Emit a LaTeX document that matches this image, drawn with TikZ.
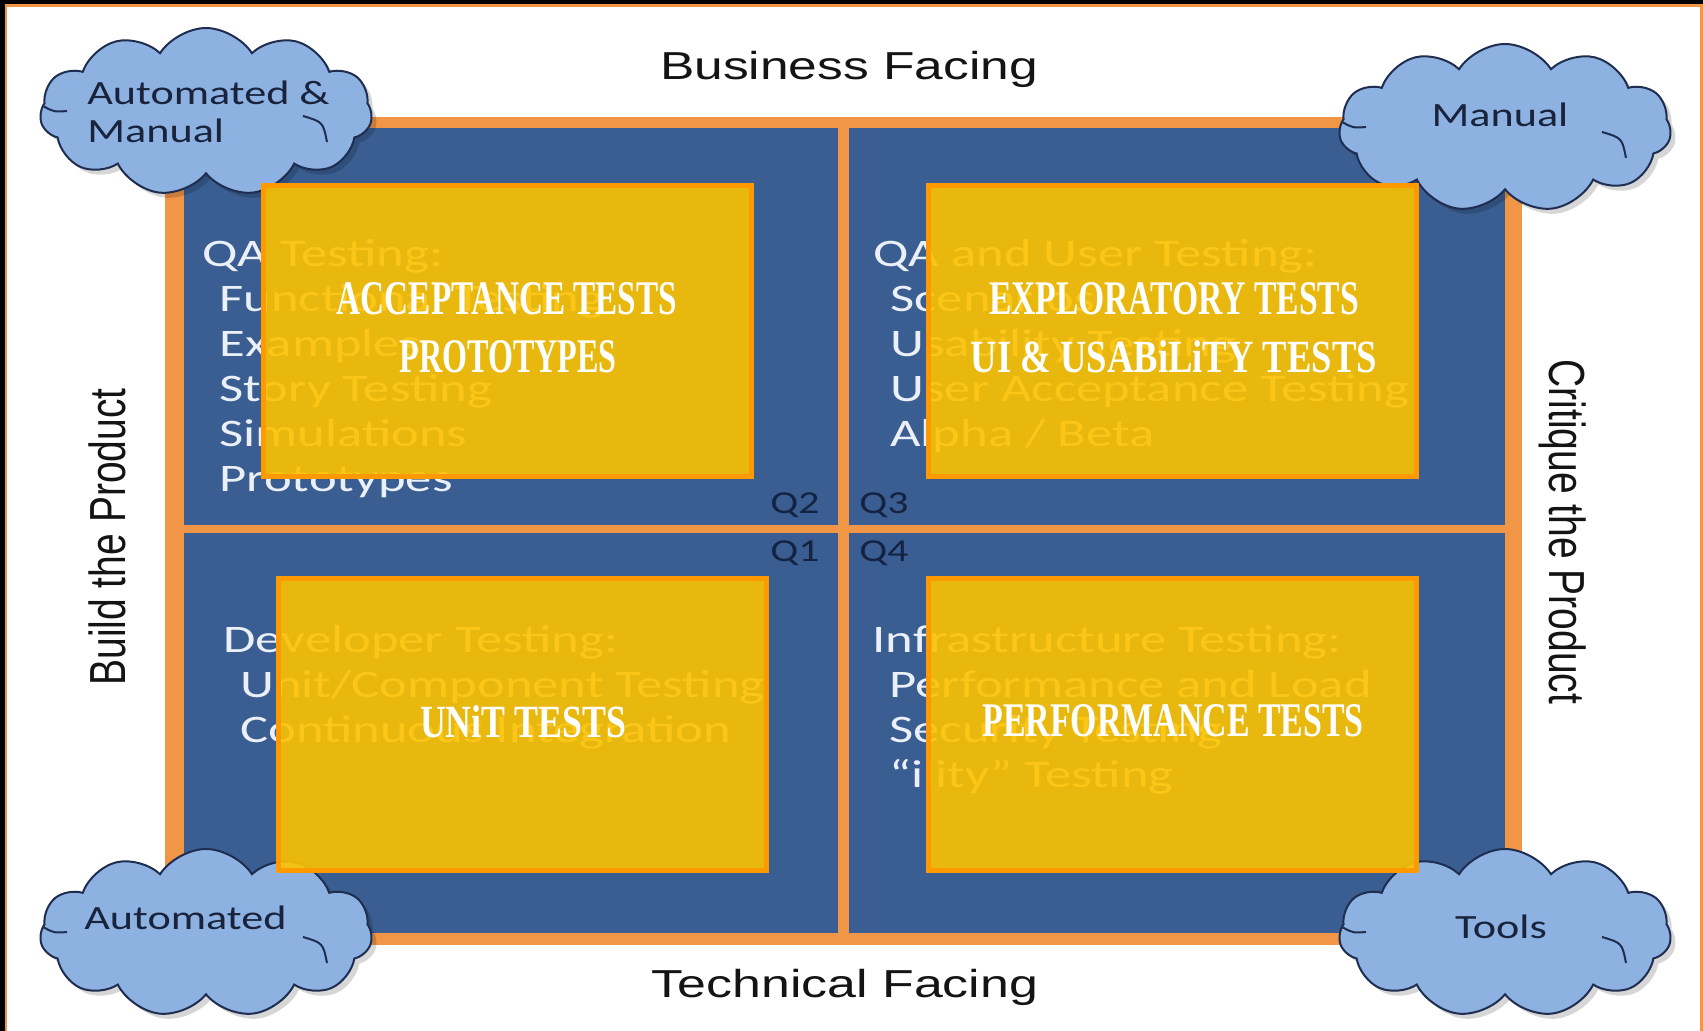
\documentclass[tikz,border=0pt]{standalone}
\usepackage{fontspec}
\usepackage{graphicx}
\usetikzlibrary{shapes.symbols}
\setmainfont{Carlito}
\newfontfamily\arialfont{Liberation Sans}
\newfontfamily\decofont{Liberation Serif}
\definecolor{quadblue}{RGB}{58,94,146}
\definecolor{frameorange}{RGB}{241,150,70}
\definecolor{cloudfill}{RGB}{141,178,226}
\definecolor{cloudline}{RGB}{30,45,80}
\definecolor{qtextcol}{RGB}{235,240,248}
\definecolor{qlabelcol}{RGB}{20,35,65}
\definecolor{boxyellow}{RGB}{253,194,0}
\definecolor{boxorange}{RGB}{255,153,0}
\definecolor{cloudtext}{RGB}{25,35,60}
\definecolor{sidetext}{RGB}{20,20,20}
\newcommand{\wide}[2][1.3]{\scalebox{#1}[1]{#2}}
\newcommand{\tall}[2][1.3]{\scalebox{1}[#1]{#2}}
\newcommand{\cloudarcs}[1]{%
  \draw[cloudline, line width=1pt] ([shift={(97,4)}]#1.center)
     .. controls ([shift={(117,10)}]#1.center) .. ([shift={(121,30)}]#1.center);
  \draw[cloudline, line width=1pt] ([shift={(-163,-6)}]#1.center)
     .. controls ([shift={(-152,0)}]#1.center) .. ([shift={(-139,-1)}]#1.center);
}
\tikzset{
  qtext/.style={anchor=base west, inner sep=0pt, text=qtextcol,
    font=\fontsize{19.5}{22.5}\selectfont},
  qlabel/.style={anchor=base west, inner sep=0pt, text=qlabelcol,
    font=\fontsize{16}{18}\selectfont},
  cloudbase/.style={cloud, cloud puffs=11, cloud puff arc=115, aspect=2.1,
    minimum width=166pt, minimum height=84pt, inner sep=0pt},
  cloudshape/.style={cloudbase, draw=cloudline, line width=1pt, fill=cloudfill},
  cloudshadow/.style={cloudbase, fill=black, fill opacity=0.16},
  ctext/.style={inner sep=0pt, text=cloudtext,
    font=\fontsize{17}{19}\selectfont},
  ybox/.style={rectangle, inner sep=0pt, minimum width=244pt,
    minimum height=145.5pt, fill=boxyellow, fill opacity=0.9,
    draw=boxorange, line width=2.5pt},
  ytext/.style={anchor=base, inner sep=0pt, text=white},
  sidelabel/.style={anchor=base, inner sep=0pt, text=sidetext,
    font=\arialfont\fontsize{19.5}{22}\selectfont},
}
\begin{document}
\begin{tikzpicture}[x=0.5pt,y=-0.5pt]
\useasboundingbox (0,0) rectangle (1703,1031);
% outer frame
\fill[black] (0,0) rectangle (1703,1031);
\fill[frameorange] (5,4) rectangle (1703,1031);
\fill[white] (7,7) rectangle (1700,1031);
% quadrant frame
\fill[frameorange] (165,117) rectangle (1522,945);
\fill[quadblue] (184,128) rectangle (838,525);
\fill[quadblue] (849,128) rectangle (1505,525);
\fill[quadblue] (184,533) rectangle (838,933);
\fill[quadblue] (849,533) rectangle (1505,933);
% quadrant texts
\node[qtext] (q2text) at (202,267) {\wide[1.35]{\begin{tabular}[t]{@{}l@{}}QA Testing:\\
 \hspace*{6.3pt}Functional Testing\\ \hspace*{6.3pt}Examples\\ \hspace*{6.3pt}Story Testing\\
 \hspace*{6.3pt}Simulations\\ \hspace*{6.3pt}Prototypes\end{tabular}}};
\node[qtext] (q3text) at (873,267) {\wide[1.35]{\begin{tabular}[t]{@{}l@{}}QA and User Testing:\\
 \hspace*{6.3pt}Scenarios\\ \hspace*{6.3pt}Usability Testing\\ \hspace*{6.3pt}User Acceptance Testing\\
 \hspace*{6.3pt}Alpha / Beta\end{tabular}}};
\node[qtext] (q1text) at (223,653) {\wide[1.35]{\begin{tabular}[t]{@{}l@{}}Developer Testing:\\
 \hspace*{6.3pt}Unit/Component Testing\\ \hspace*{6.3pt}Continuous Integration\end{tabular}}};
\node[qtext] (q4text) at (872,653) {\wide[1.35]{\begin{tabular}[t]{@{}l@{}}Infrastructure Testing:\\
 \hspace*{6.3pt}Performance and Load\\ \hspace*{6.3pt}Security Testing\\
 \hspace*{6.3pt}“ility” Testing\end{tabular}}};
% quadrant labels
\node[qlabel] (lq2) at (770,514) {\wide{Q2}};
\node[qlabel] (lq3) at (859,514) {\wide{Q3}};
\node[qlabel] (lq1) at (770,562) {\wide{Q1}};
\node[qlabel] (lq4) at (859,562) {\wide{Q4}};
% clouds
\node[cloudshadow] (shtl) at (211,117) {};
\node[cloudshadow] (shtr) at (1510,133) {};
\node[cloudshadow] (shbl) at (211,938) {};
\node[cloudshadow] (shbr) at (1510,938) {};
\node[cloudshape] (cloudtl) at (206,112) {};
\node[cloudshape] (cloudtr) at (1505,128) {};
\node[cloudshape] (cloudbl) at (206,933) {};
\node[cloudshape] (cloudbr) at (1505,933) {};
\cloudarcs{cloudtl}
\cloudarcs{cloudtr}
\cloudarcs{cloudbl}
\cloudarcs{cloudbr}
\node[ctext, anchor=base west] (ctl1) at (87,105) {\wide{Automated \&}};
\node[ctext, anchor=base west] (ctl2) at (87,143) {\wide{Manual}};
\node[ctext, anchor=base] (ctr) at (1500,127) {\wide{Manual}};
\node[ctext, anchor=base west] (cbl) at (84,929) {\wide{Automated}};
\node[ctext, anchor=base] (cbr) at (1501,938) {\wide{Tools}};
% yellow boxes
\node[ybox] (boxacc) at (507,331.5) {};
\node[ybox] (boxexp) at (1172.5,331.5) {};
\node[ybox] (boxunit) at (522,724.5) {};
\node[ybox] (boxperf) at (1172.5,724.5) {};
\node[ytext] (tacc) at (507,315) {\resizebox{170pt}{16pt}{\decofont\bfseries ACCEPTANCE TESTS}};
\node[ytext] (tproto) at (508,373) {\resizebox{108.5pt}{16pt}{\decofont\bfseries PROTOTYPES}};
\node[ytext] (texp) at (1174,315) {\resizebox{185pt}{16pt}{\decofont\bfseries EXPLORATORY TESTS}};
\node[ytext] (tui) at (1174,373) {\resizebox{203pt}{16pt}{\decofont\bfseries UI \& USABiLiTY TESTS}};
\node[ytext] (tunit) at (523,737) {\resizebox{103pt}{16pt}{\decofont\bfseries UNiT TESTS}};
\node[ytext] (tperf) at (1173,737) {\resizebox{190.5pt}{16pt}{\decofont\bfseries PERFORMANCE TESTS}};
% side labels
\node[sidelabel] (business) at (849,80) {\wide[1.32]{Business Facing}};
\node[sidelabel] (technical) at (845,997) {\wide[1.33]{Technical Facing}};
\node[sidelabel, rotate=90] (build) at (125,537) {\tall{Build the Product}};
\node[sidelabel, rotate=-90] (critique) at (1549,532) {\tall{Critique the Product}};
\end{tikzpicture}
\end{document}
